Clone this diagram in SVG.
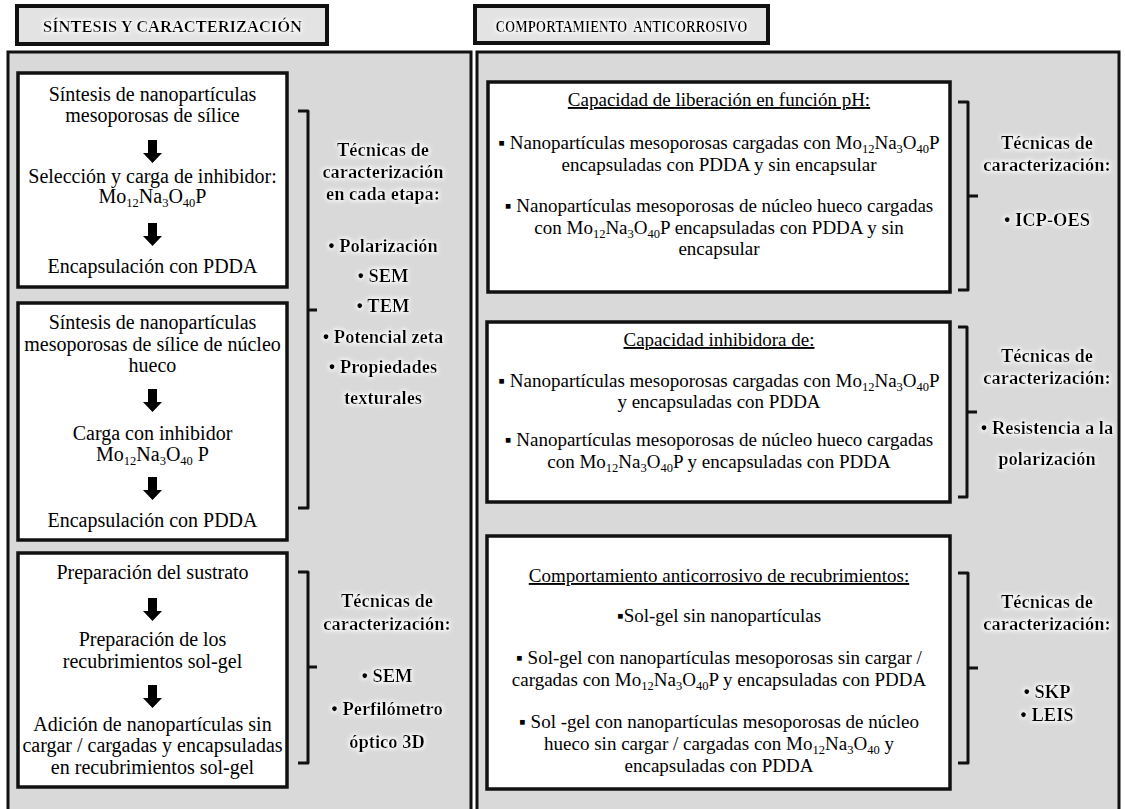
<svg xmlns="http://www.w3.org/2000/svg" width="1125" height="809" viewBox="0 0 1125 809">
<style>
.t{font-family:"Liberation Serif","Times New Roman","DejaVu Serif",serif;font-size:20px;text-anchor:middle;fill:#000}
.r{font-size:19px}
.s{font-size:12.5px}
.b{font-weight:bold;font-size:18.5px}
.h{font-weight:bold;font-size:17px}
.u{text-decoration:underline}
.panel{fill:#d9d9d9;stroke:#111;stroke-width:3}
.hdr{fill:#e3e3e3;stroke:#111;stroke-width:4}
.box{fill:#fff;stroke:#111;stroke-width:3.5}
.br{fill:none;stroke:#111;stroke-width:3;stroke-linejoin:round}
</style>
<defs>
<filter id="glow" x="-20%" y="-50%" width="140%" height="200%">
<feMorphology in="SourceAlpha" operator="dilate" radius="1" result="d"/>
<feGaussianBlur in="d" stdDeviation="2" result="bl"/>
<feFlood flood-color="#fff" flood-opacity="0.95"/>
<feComposite in2="bl" operator="in" result="g"/>
<feMerge><feMergeNode in="g"/><feMergeNode in="SourceGraphic"/></feMerge>
</filter>
<path id="arr" d="M-4.5,0 h9 v13 h5 l-9.5,10 l-9.5,-10 h5 z" fill="#000"/>
</defs>
<rect width="1125" height="809" fill="#fff"/>

<g id="header-left">
<rect class="hdr" x="17" y="6" width="310" height="38"/>
<text class="t h" x="172.5" y="32" filter="url(#glow)" textLength="259" lengthAdjust="spacingAndGlyphs">SÍNTESIS Y CARACTERIZACIÓN</text>
</g>
<g id="header-right">
<rect class="hdr" x="475" y="6" width="293" height="37"/>
<text class="t h" x="621.5" y="32" filter="url(#glow)" xml:space="preserve" textLength="252" lengthAdjust="spacingAndGlyphs">COMPORTAMIENTO  ANTICORROSIVO</text>
</g>

<g id="panel-left"><rect class="panel" x="8" y="52" width="463" height="770"/></g>
<g id="panel-right"><rect class="panel" x="477" y="52" width="642" height="770"/></g>

<g id="box-l1">
<rect class="box" x="18" y="73" width="269" height="214"/>
<text class="t" x="152.5" y="101">Síntesis de nanopartículas</text>
<text class="t" x="152.5" y="122">mesoporosas de sílice</text>
<text class="t" x="152.5" y="183">Selección y carga de inhibidor:</text>
<text class="t" x="152.5" y="203">Mo<tspan class="s" dy="3.5">12</tspan><tspan dy="-3.5">Na</tspan><tspan class="s" dy="3.5">3</tspan><tspan dy="-3.5">O</tspan><tspan class="s" dy="3.5">40</tspan><tspan dy="-3.5">P</tspan></text>
<text class="t" x="152.5" y="273">Encapsulación con PDDA</text>
</g>
<g id="box-l2">
<rect class="box" x="18" y="303" width="269" height="237"/>
<text class="t" x="152.5" y="329">Síntesis de nanopartículas</text>
<text class="t" x="152.5" y="351">mesoporosas de sílice de núcleo</text>
<text class="t" x="152.5" y="372">hueco</text>
<text class="t" x="152.5" y="440">Carga con inhibidor</text>
<text class="t" x="152.5" y="461">Mo<tspan class="s" dy="3.5">12</tspan><tspan dy="-3.5">Na</tspan><tspan class="s" dy="3.5">3</tspan><tspan dy="-3.5">O</tspan><tspan class="s" dy="3.5">40</tspan><tspan dy="-3.5"> P</tspan></text>
<text class="t" x="152.5" y="527">Encapsulación con PDDA</text>
</g>
<g id="box-l3">
<rect class="box" x="18" y="553" width="269" height="234"/>
<text class="t" x="152.5" y="579">Preparación del sustrato</text>
<text class="t" x="152.5" y="646">Preparación de los</text>
<text class="t" x="152.5" y="668">recubrimientos sol-gel</text>
<text class="t" x="152.5" y="731">Adición de nanopartículas sin</text>
<text class="t" x="152.5" y="752">cargar / cargadas y encapsuladas</text>
<text class="t" x="152.5" y="774">en recubrimientos sol-gel</text>
</g>

<g id="tech-l1" filter="url(#glow)">
<text class="t b" x="383" y="156">Técnicas de</text>
<text class="t b" x="383" y="178">caracterización</text>
<text class="t b" x="383" y="200">en cada etapa:</text>
<text class="t b" x="383" y="252">• Polarización</text>
<text class="t b" x="383" y="282">• SEM</text>
<text class="t b" x="383" y="312">• TEM</text>
<text class="t b" x="383" y="343">• Potencial zeta</text>
<text class="t b" x="383" y="373">• Propiedades</text>
<text class="t b" x="383" y="404">texturales</text>
</g>
<g id="tech-l3" filter="url(#glow)">
<text class="t b" x="387" y="607">Técnicas de</text>
<text class="t b" x="387" y="630">caracterización:</text>
<text class="t b" x="387" y="682">• SEM</text>
<text class="t b" x="387" y="715">• Perfilómetro</text>
<text class="t b" x="387" y="748">óptico 3D</text>
</g>

<g id="box-r1">
<rect class="box" x="488" y="82" width="462" height="210"/>
<text class="t r u" x="719" y="106">Capacidad de liberación en función pH:</text>
<text class="t r" x="719" y="149">▪ Nanopartículas mesoporosas cargadas con Mo<tspan class="s" dy="3.5">12</tspan><tspan dy="-3.5">Na</tspan><tspan class="s" dy="3.5">3</tspan><tspan dy="-3.5">O</tspan><tspan class="s" dy="3.5">40</tspan><tspan dy="-3.5">P</tspan></text>
<text class="t r" x="719" y="171">encapsuladas con PDDA y sin encapsular</text>
<text class="t r" x="719" y="212">▪ Nanopartículas mesoporosas de núcleo hueco cargadas</text>
<text class="t r" x="719" y="234">con Mo<tspan class="s" dy="3.5">12</tspan><tspan dy="-3.5">Na</tspan><tspan class="s" dy="3.5">3</tspan><tspan dy="-3.5">O</tspan><tspan class="s" dy="3.5">40</tspan><tspan dy="-3.5">P encapsuladas con PDDA y sin</tspan></text>
<text class="t r" x="719" y="255">encapsular</text>
</g>
<g id="box-r2">
<rect class="box" x="487" y="322" width="463" height="180"/>
<text class="t r u" x="719" y="346">Capacidad inhibidora de:</text>
<text class="t r" x="719" y="387">▪ Nanopartículas mesoporosas cargadas con Mo<tspan class="s" dy="3.5">12</tspan><tspan dy="-3.5">Na</tspan><tspan class="s" dy="3.5">3</tspan><tspan dy="-3.5">O</tspan><tspan class="s" dy="3.5">40</tspan><tspan dy="-3.5">P</tspan></text>
<text class="t r" x="719" y="408">y encapsuladas con PDDA</text>
<text class="t r" x="719" y="446">▪ Nanopartículas mesoporosas de núcleo hueco cargadas</text>
<text class="t r" x="719" y="468">con Mo<tspan class="s" dy="3.5">12</tspan><tspan dy="-3.5">Na</tspan><tspan class="s" dy="3.5">3</tspan><tspan dy="-3.5">O</tspan><tspan class="s" dy="3.5">40</tspan><tspan dy="-3.5">P y encapsuladas con PDDA</tspan></text>
</g>
<g id="box-r3">
<rect class="box" x="487" y="536" width="463" height="253"/>
<text class="t r u" x="719" y="582">Comportamiento anticorrosivo de recubrimientos:</text>
<text class="t r" x="719" y="622">▪Sol-gel sin nanopartículas</text>
<text class="t r" x="719" y="664">▪ Sol-gel con nanopartículas mesoporosas sin cargar /</text>
<text class="t r" x="719" y="686">cargadas con Mo<tspan class="s" dy="3.5">12</tspan><tspan dy="-3.5">Na</tspan><tspan class="s" dy="3.5">3</tspan><tspan dy="-3.5">O</tspan><tspan class="s" dy="3.5">40</tspan><tspan dy="-3.5">P y encapsuladas con PDDA</tspan></text>
<text class="t r" x="719" y="728">▪ Sol -gel con nanopartículas mesoporosas de núcleo</text>
<text class="t r" x="719" y="750">hueco sin cargar / cargadas con Mo<tspan class="s" dy="3.5">12</tspan><tspan dy="-3.5">Na</tspan><tspan class="s" dy="3.5">3</tspan><tspan dy="-3.5">O</tspan><tspan class="s" dy="3.5">40</tspan><tspan dy="-3.5"> y</tspan></text>
<text class="t r" x="719" y="772">encapsuladas con PDDA</text>
</g>

<g id="tech-r1" filter="url(#glow)">
<text class="t b" x="1047" y="149">Técnicas de</text>
<text class="t b" x="1047" y="171">caracterización:</text>
<text class="t b" x="1047" y="226">• ICP-OES</text>
</g>
<g id="tech-r2" filter="url(#glow)">
<text class="t b" x="1047" y="362">Técnicas de</text>
<text class="t b" x="1047" y="384">caracterización:</text>
<text class="t b" x="1047" y="434">• Resistencia a la</text>
<text class="t b" x="1047" y="465">polarización</text>
</g>
<g id="tech-r3" filter="url(#glow)">
<text class="t b" x="1047" y="608">Técnicas de</text>
<text class="t b" x="1047" y="630">caracterización:</text>
<text class="t b" x="1047" y="698">• SKP</text>
<text class="t b" x="1047" y="721">• LEIS</text>
</g>

<g id="connectors">
<use href="#arr" x="152.5" y="140"/>
<use href="#arr" x="152.5" y="223"/>
<use href="#arr" x="152.5" y="389"/>
<use href="#arr" x="152.5" y="477"/>
<use href="#arr" x="152.5" y="598"/>
<use href="#arr" x="152.5" y="685"/>
<path class="br" d="M298,111 H308 V508 H298 M308,310 H317"/>
<path class="br" d="M298,572 H308 V763 H298 M308,667 H317"/>
<path class="br" d="M958,102 H968 V290 H958 M968,196 H978"/>
<path class="br" d="M958,327 H967 V497 H958 M967,412 H977"/>
<path class="br" d="M958,573 H968 V763 H958 M968,668 H978"/>
</g>
</svg>
